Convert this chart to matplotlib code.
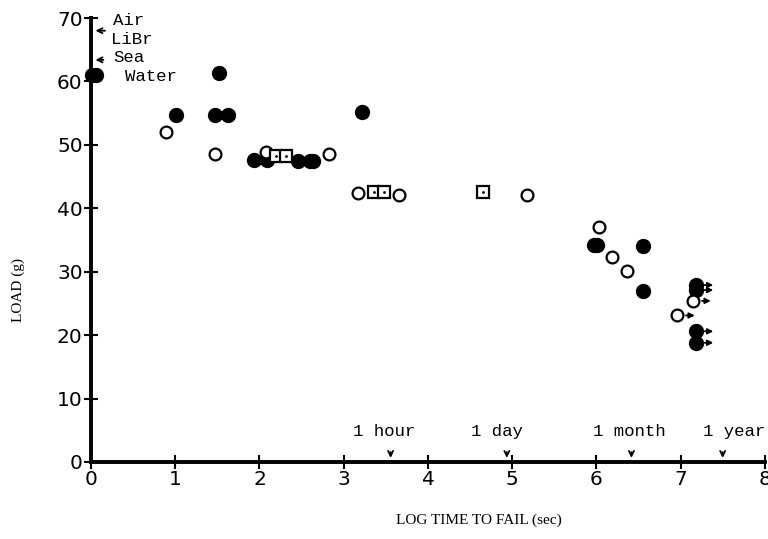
import matplotlib
matplotlib.use("Agg")
import matplotlib.pyplot as plt
import numpy as np

# Data
filled_x = [0.01, 0.06, 1.01, 1.52, 1.47, 1.63, 1.94, 2.09, 2.46, 2.60, 2.64, 3.22,
            5.97, 6.01, 6.55, 6.55, 7.18, 7.18, 7.18, 7.18]
filled_y = [61.0, 61.0, 54.7, 61.4, 54.7, 54.7, 47.6, 47.6, 47.5, 47.5, 47.5, 55.2,
            34.2, 34.2, 34.0, 27.0, 27.9, 27.1, 20.6, 18.8]
open_x = [0.89, 1.47, 2.08, 2.82, 3.17, 3.66, 5.17, 6.03, 6.18, 6.36, 6.96, 7.15]
open_y = [52.1, 48.5, 48.8, 48.5, 42.4, 42.1, 42.1, 37.1, 32.3, 30.1, 23.1, 25.4]
square_x = [2.20, 2.31, 3.36, 3.48, 4.65]
square_y = [48.2, 48.2, 42.5, 42.5, 42.5]
runout_x = [7.18, 7.18, 7.18, 7.18, 7.15, 6.96]
runout_y = [27.9, 27.1, 20.6, 18.8, 25.4, 23.1]
time_labels = ["1 hour", "1 day", "1 month", "1 year"]
time_seconds = [3600, 86400, 2.6e6, 3.15e7]
time_label_x = [3.48, 4.82, 6.39, 7.64]
env_labels = ["Air", "LiBr", "Sea", "Water"]
x_ticks = [0, 1, 2, 3, 4, 5, 6, 7, 8]
y_ticks = [0, 10, 20, 30, 40, 50, 60, 70]

fig = plt.figure(figsize=(7.68, 5.39), dpi=100)
ax = fig.add_axes([0.1185, 0.1429, 0.8775, 0.8237])
ax.set_xlim(0, 8)
ax.set_ylim(0, 70)
for s in ["top", "right"]:
    ax.spines[s].set_visible(False)
for s in ["left", "bottom"]:
    ax.spines[s].set_linewidth(2.8)
    ax.spines[s].set_color("black")
ax.set_xticks(x_ticks)
ax.set_yticks(y_ticks)
ax.tick_params(direction="inout", length=10, width=1.5, labelsize=14.5, pad=1)

ax.plot(filled_x, filled_y, "o", color="black", ms=10, clip_on=False, zorder=3)
ax.plot(open_x, open_y, "o", mfc="white", mec="black", mew=1.6, ms=8.5, clip_on=False, zorder=3)
ax.plot(square_x, square_y, "s", mfc="white", mec="black", mew=1.6, ms=8.5, zorder=3)
ax.plot(square_x, square_y, ".", color="black", ms=2, zorder=4)

for x, y in zip(runout_x, runout_y):
    ax.annotate("", xy=(x + 0.24, y), xytext=(x + 0.07, y), zorder=5,
                arrowprops=dict(arrowstyle="-|>", color="black", lw=1.3, mutation_scale=8))

for lab, sec, tx in zip(time_labels, time_seconds, time_label_x):
    lx = np.log10(sec)
    ax.annotate("", xy=(lx, 0.2), xytext=(lx, 2.0),
                arrowprops=dict(arrowstyle="->", color="black", lw=1.3, mutation_scale=9))
    ax.text(tx, 3.6, lab, ha="center", va="bottom", fontsize=12.5, family="Liberation Mono")

# environment markers on y-axis
ax.annotate("", xy=(0.02, 68.0), xytext=(0.2, 68.0),
            arrowprops=dict(arrowstyle="->", color="black", lw=1.3, mutation_scale=9))
ax.annotate("", xy=(0.02, 63.4), xytext=(0.18, 63.4),
            arrowprops=dict(arrowstyle="->", color="black", lw=1.3, mutation_scale=9))
ax.text(0.26, 69.6, env_labels[0], fontsize=12.5, family="Liberation Mono", va="center")
ax.text(0.24, 66.6, env_labels[1], fontsize=12.5, family="Liberation Mono", va="center")
ax.text(0.26, 63.7, env_labels[2], fontsize=12.5, family="Liberation Mono", va="center")
ax.text(0.40, 60.7, env_labels[3], fontsize=12.5, family="Liberation Mono", va="center")

fig.text(0.624, 0.035, "LOG TIME TO FAIL (sec)", ha="center", va="center",
         fontsize=11, family="Liberation Serif")
fig.text(0.024, 0.462, "LOAD (g)", ha="center", va="center", rotation=90,
         fontsize=11, family="Liberation Serif")

fig.savefig("out.png", dpi=100)
